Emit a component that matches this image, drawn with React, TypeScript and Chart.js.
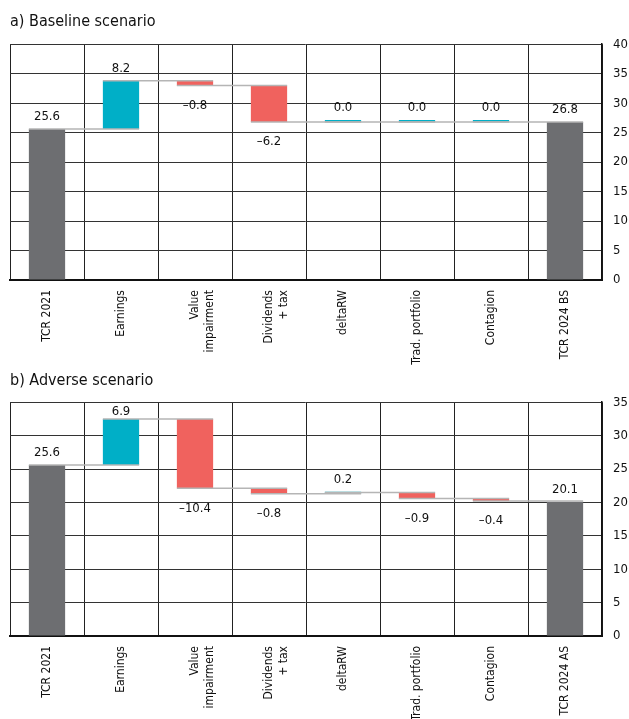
import React, { useEffect, useRef } from "react";
import { Chart, registerables } from "chart.js";

Chart.register(...registerables);

const FONT = "'DejaVu Sans Condensed', 'Liberation Sans Narrow', sans-serif";

const baselineCategories: (string | string[])[] = [
  "TCR 2021",
  "Earnings",
  ["Value", "impairment"],
  ["Dividends", "+ tax"],
  "deltaRW",
  "Trad. portfolio",
  "Contagion",
  "TCR 2024 BS",
];
const adverseCategories: (string | string[])[] = [
  "TCR 2021",
  "Earnings",
  ["Value", "impairment"],
  ["Dividends", "+ tax"],
  "deltaRW",
  "Trad. portfolio",
  "Contagion",
  "TCR 2024 AS",
];

// first and last entries are totals, the rest are changes
const baselineValues = [25.6, 8.2, -0.8, -6.2, 0.0, 0.0, 0.0, 26.8];
const adverseValues = [25.6, 6.9, -10.4, -0.8, 0.2, -0.9, -0.4, 20.1];

const baselineTicks = { min: 0, max: 40, step: 5 };
const adverseTicks = { min: 0, max: 35, step: 5 };

const COLOR_TOTAL = "#6d6e71";
const COLOR_UP = "#00afc7";
const COLOR_DOWN = "#f0625e";
const COLOR_CONNECTOR = "#b5b5b5";

function buildRanges(values: number[]): [number, number][] {
  const out: [number, number][] = [];
  let cum = 0;
  values.forEach((v, i) => {
    if (i === 0 || i === values.length - 1) {
      out.push([0, v]);
      cum = v;
    } else {
      out.push([cum, cum + v]);
      cum = cum + v;
    }
  });
  return out;
}

function fmt(v: number) {
  return v < 0 ? "\u2013" + Math.abs(v).toFixed(1) : v.toFixed(1);
}

function makePlugin(values: number[], ranges: [number, number][]) {
  return {
    id: "waterfallExtras",
    afterDatasetsDraw(chart: any) {
      const ctx = chart.ctx as CanvasRenderingContext2D;
      const meta = chart.getDatasetMeta(0);
      const ys = chart.scales.y;
      const area = chart.chartArea;
      ctx.save();
      // connectors
      ctx.strokeStyle = COLOR_CONNECTOR;
      ctx.lineWidth = 1.5;
      for (let i = 0; i < meta.data.length - 1; i++) {
        const a = meta.data[i];
        const b = meta.data[i + 1];
        const py = ys.getPixelForValue(ranges[i][1]);
        ctx.beginPath();
        ctx.moveTo(a.x - a.width / 2, py);
        ctx.lineTo(b.x + b.width / 2, py);
        ctx.stroke();
      }
      // labels
      ctx.fillStyle = "#111";
      ctx.font = "13px " + FONT;
      ctx.textAlign = "center";
      ctx.textBaseline = "middle";
      meta.data.forEach((el: any, i: number) => {
        const top = Math.min(el.y, el.base);
        const bottom = Math.max(el.y, el.base);
        const v = values[i];
        let ly: number;
        if (v >= 0) {
          ly = Math.max(top - 12, area.top + 9);
        } else {
          ly = bottom + 20;
        }
        ctx.fillText(fmt(v), el.x, ly);
      });
      ctx.restore();
    },
  };
}

function WaterfallChart(props: {
  title: string;
  categories: (string | string[])[];
  values: number[];
  ticks: { min: number; max: number; step: number };
  titlePadTop: number;
  titlePadBottom: number;
  xHeight: number;
  height: number;
}) {
  const ref = useRef<HTMLCanvasElement>(null);
  useEffect(() => {
    if (!ref.current) return;
    const ranges = buildRanges(props.values);
    const n = props.values.length;
    const colors = props.values.map((v, i) =>
      i === 0 || i === n - 1 ? COLOR_TOTAL : v >= 0 ? COLOR_UP : COLOR_DOWN
    );
    const chart = new Chart(ref.current, {
      type: "bar",
      data: {
        labels: props.categories as any,
        datasets: [
          {
            data: ranges as any,
            backgroundColor: colors,
            borderWidth: 0,
            barPercentage: 0.49,
            categoryPercentage: 1,
            minBarLength: 2,
          },
        ],
      },
      options: {
        animation: false,
        responsive: false,
        layout: { padding: { left: 10, right: 0, top: 0, bottom: 0 } },
        plugins: {
          legend: { display: false },
          tooltip: { enabled: false },
          title: {
            display: true,
            text: props.title,
            align: "start",
            color: "#111",
            font: { family: FONT, size: 16, weight: "normal" },
            padding: { top: props.titlePadTop, bottom: props.titlePadBottom },
          },
        },
        scales: {
          x: {
            grid: { offset: true, color: "#222", lineWidth: 1, drawTicks: false },
            border: { color: "#111", width: 2 },
            ticks: {
              autoSkip: false,
              maxRotation: 90,
              minRotation: 90,
              padding: 10,
              color: "#111",
              font: { family: FONT, size: 12 },
            },
            afterFit(scale: any) {
              scale.height = props.xHeight;
            },
          },
          y: {
            position: "right",
            min: props.ticks.min,
            max: props.ticks.max,
            grid: { color: "#333", lineWidth: 1, drawTicks: false },
            border: { color: "#111", width: 1.5 },
            ticks: {
              stepSize: props.ticks.step,
              padding: 11,
              color: "#111",
              font: { family: FONT, size: 13 },
            },
            afterFit(scale: any) {
              scale.width = 27;
            },
          },
        },
      },
      plugins: [makePlugin(props.values, ranges)],
    });
    return () => chart.destroy();
  }, []);
  return (
    <canvas ref={ref} width={629} height={props.height} style={{ display: "block" }} />
  );
}

export default function App() {
  return (
    <div style={{ position: "absolute", left: 0, top: 0, width: 629, background: "#fff" }}>
      <WaterfallChart
        title="a) Baseline scenario"
        categories={baselineCategories}
        values={baselineValues}
        ticks={baselineTicks}
        titlePadTop={12}
        titlePadBottom={13}
        xHeight={86}
        height={366}
      />
      <WaterfallChart
        title="b) Adverse scenario"
        categories={adverseCategories}
        values={adverseValues}
        ticks={adverseTicks}
        titlePadTop={5}
        titlePadBottom={12}
        xHeight={90}
        height={360}
      />
    </div>
  );
}
